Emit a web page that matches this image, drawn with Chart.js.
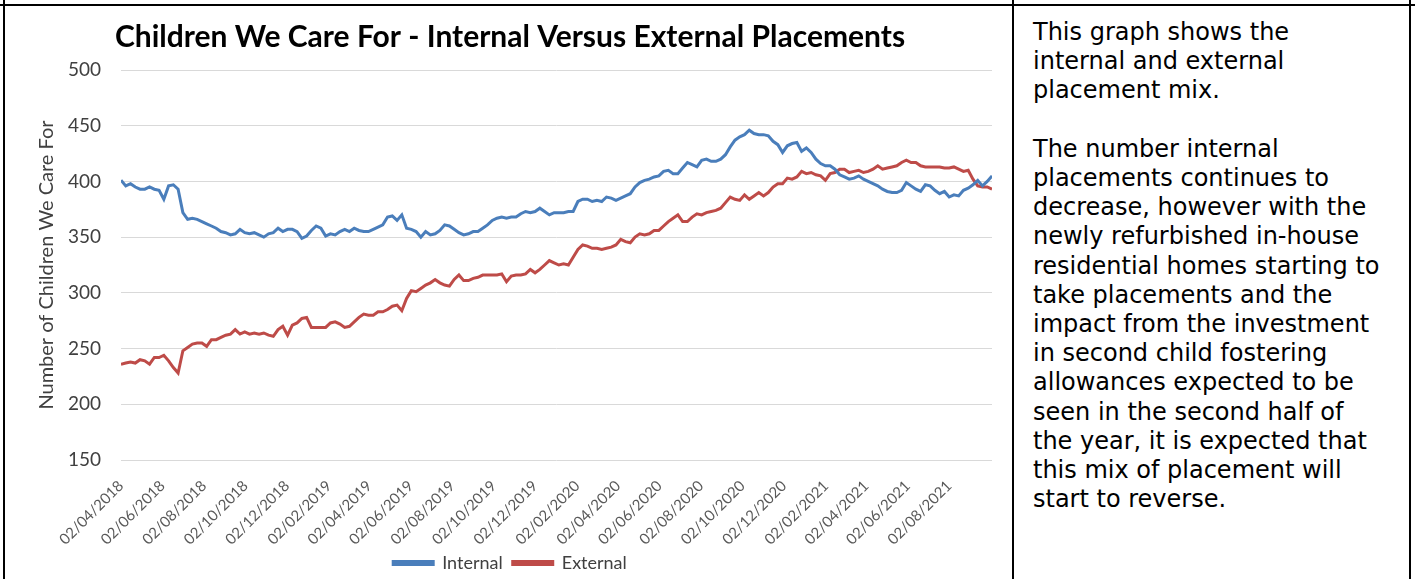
<!DOCTYPE html>
<html>
<head>
<meta charset="utf-8">
<script src="https://cdn.jsdelivr.net/npm/chart.js@4.4.0/dist/chart.umd.min.js"></script>
<style>
  body { margin: 0; background: #fff; width: 1415px; height: 579px; overflow: hidden; position: relative; }
  .hline { position: absolute; left: 0; top: 4px; width: 1415px; height: 2px; background: #000; }
  .vline { position: absolute; top: 0; width: 2px; height: 579px; background: #000; z-index: 2; }
  #chartBox { position: absolute; left: 6px; top: 6px; width: 1006px; height: 576px; }
  #note { position: absolute; left: 1033px; top: 18px; font-family: "DejaVu Sans", Verdana, sans-serif;
          font-size: 24px; line-height: 29.2px; color: #000; white-space: nowrap; }
</style>
</head>
<body>
<div class="hline"></div>
<div class="vline" style="left:3px"></div>
<div class="vline" style="left:1012px"></div>
<div class="vline" style="left:1409px"></div>
<div id="chartBox"><canvas id="placementsChart"></canvas></div>
<div id="note">
This graph shows the<br>
internal and external<br>
placement mix.<br>
<br>
The number internal<br>
placements continues to<br>
decrease, however with the<br>
newly refurbished in-house<br>
residential homes starting to<br>
take placements and the<br>
impact from the investment<br>
in second child fostering<br>
allowances expected to be<br>
seen in the second half of<br>
the year, it is expected that<br>
this mix of placement will<br>
start to reverse.
</div>

<script>
// weekly snapshots, first week commencing 02/04/2018
const firstWeek = "02/04/2018";

const internal = [
  401, 396, 398, 395, 393, 393, 395, 393, 392, 384, 396, 397, 393,
  372, 366, 367, 366, 364, 362, 360, 358, 355, 354, 352, 353, 357, 354, 353, 354, 352, 350,
  353, 354, 358, 355, 357, 357, 355, 349, 351, 356, 360, 358, 351, 353, 352, 355,
  357, 355, 358, 356, 355, 355, 357, 359, 361, 368, 369, 365, 370, 358, 357, 355, 350, 355,
  352, 353, 356, 361, 360, 357, 354, 352, 353, 355, 355, 358, 361, 365, 367, 368, 367, 368,
  368, 371, 373, 372, 373, 376, 373, 370, 372, 372,
  372, 373, 373, 382, 384, 384, 382, 383, 382, 386, 385, 383, 385, 387, 389, 395, 399, 401,
  402, 404, 405, 409, 410, 407, 407, 412, 417, 415, 413, 419, 420, 418, 418, 420, 424, 431,
  437, 440, 442, 446, 443, 442, 442, 441, 436, 433,
  426, 432, 434, 435, 427, 430, 426, 420, 416, 414, 414, 411, 406, 404, 402, 403, 405, 402,
  400, 398, 396, 393, 391, 390, 390, 392, 399, 396, 393, 391, 397, 396, 392, 389, 391, 386,
  388, 387, 392, 394, 397, 401, 396, 400, 405
];

const external = [
  236, 237, 238, 237, 240, 239, 236, 242, 242, 244, 239, 233, 228,
  248, 251, 254, 255, 255, 252, 258, 258, 260, 262, 263, 267, 263, 265, 263, 264, 263, 264,
  262, 261, 267, 270, 262, 271, 273, 277, 278, 269, 269, 269, 269, 273, 274, 272,
  269, 270, 274, 278, 281, 280, 280, 283, 283, 285, 288, 289, 284, 295, 302, 301, 304, 307,
  309, 312, 309, 307, 306, 312, 316, 311, 311, 313, 314, 316, 316, 316, 316, 317, 310, 315,
  316, 316, 317, 321, 318, 321, 325, 329, 327, 325,
  326, 325, 332, 339, 343, 342, 340, 340, 339, 340, 341, 343, 348, 346, 345, 350, 353, 352,
  353, 356, 356, 360, 364, 367, 370, 364, 364, 368, 371, 370, 372, 373, 374, 376, 381, 386,
  384, 383, 388, 384, 387, 390, 387, 390, 395, 398,
  398, 403, 402, 404, 409, 407, 408, 406, 405, 401, 407, 408, 411, 411, 408, 409, 410, 408,
  409, 411, 414, 411, 412, 413, 414, 417, 419, 417, 417, 414, 413, 413, 413, 413, 412, 412,
  413, 411, 409, 410, 402, 396, 395, 395, 393
];

const tickLabels = [
  "02/04/2018", "02/06/2018", "02/08/2018", "02/10/2018", "02/12/2018",
  "02/02/2019", "02/04/2019", "02/06/2019", "02/08/2019", "02/10/2019", "02/12/2019",
  "02/02/2020", "02/04/2020", "02/06/2020", "02/08/2020", "02/10/2020", "02/12/2020",
  "02/02/2021", "02/04/2021", "02/06/2021", "02/08/2021"
];

const yTicks = [150, 200, 250, 300, 350, 400, 450, 500];

// days since first week, so the x axis behaves like Excel's date axis
function toDay(label) {
  const [d, m, y] = label.split("/").map(Number);
  const [d0, m0, y0] = firstWeek.split("/").map(Number);
  return Math.round((Date.UTC(y, m - 1, d) - Date.UTC(y0, m0 - 1, d0)) / 86400000);
}

const tickDays = tickLabels.map(toDay);
const weekDays = internal.map((_, i) => i * 7);

const font = "Lato";
const greyText = "#595959";

new Chart(document.getElementById("placementsChart").getContext("2d"), {
  type: "line",
  data: {
    datasets: [
      {
        label: "Internal",
        data: internal.map((v, i) => ({ x: weekDays[i], y: v })),
        borderColor: "#4a7ebb",
        backgroundColor: "#4a7ebb",
        borderWidth: 3,
        pointRadius: 0,
        tension: 0,
      },
      {
        label: "External",
        data: external.map((v, i) => ({ x: weekDays[i], y: v })),
        borderColor: "#be4b48",
        backgroundColor: "#be4b48",
        borderWidth: 3,
        pointRadius: 0,
        tension: 0,
      },
    ],
  },
  options: {
    responsive: true,
    maintainAspectRatio: false,
    animation: false,
    layout: { padding: { left: 22, right: 20, top: 0, bottom: 0 } },
    scales: {
      x: {
        type: "linear",
        min: 0,
        max: weekDays[weekDays.length - 1],
        afterBuildTicks: (scale) => { scale.ticks = tickDays.map((v) => ({ value: v })); },
        afterFit: (scale) => { scale.height = 84; },
        grid: { display: false, drawTicks: false },
        border: { display: false },
        ticks: {
          autoSkip: false,
          minRotation: 45,
          maxRotation: 45,
          padding: 17,
          color: greyText,
          font: { family: font, size: 15 },
          callback: (value) => tickLabels[tickDays.indexOf(value)],
        },
      },
      y: {
        min: 150,
        max: 500,
        afterBuildTicks: (scale) => { scale.ticks = yTicks.map((v) => ({ value: v })); },
        afterFit: (scale) => { scale.width = 93; },
        grid: { color: "#d9d9d9", lineWidth: 1, drawTicks: false },
        border: { display: false },
        ticks: { padding: 20, color: "#404040", font: { family: font, size: 19 } },
        title: {
          display: true,
          text: "Number of Children We Care For",
          color: "#404040",
          font: { family: font, size: 20 },
          padding: { top: 7, bottom: 0 },
        },
      },
    },
    plugins: {
      title: {
        display: true,
        text: "Children We Care For - Internal Versus External Placements",
        color: "#000",
        font: { family: font, size: 30, weight: "bold" },
        padding: { top: 13, bottom: 15 },
      },
      legend: {
        position: "bottom",
        labels: {
          boxWidth: 40,
          boxHeight: 3,
          padding: 10,
          color: "#404040",
          font: { family: font, size: 18 },
        },
      },
      tooltip: { enabled: false },
    },
  },
});
</script>
</body>
</html>
